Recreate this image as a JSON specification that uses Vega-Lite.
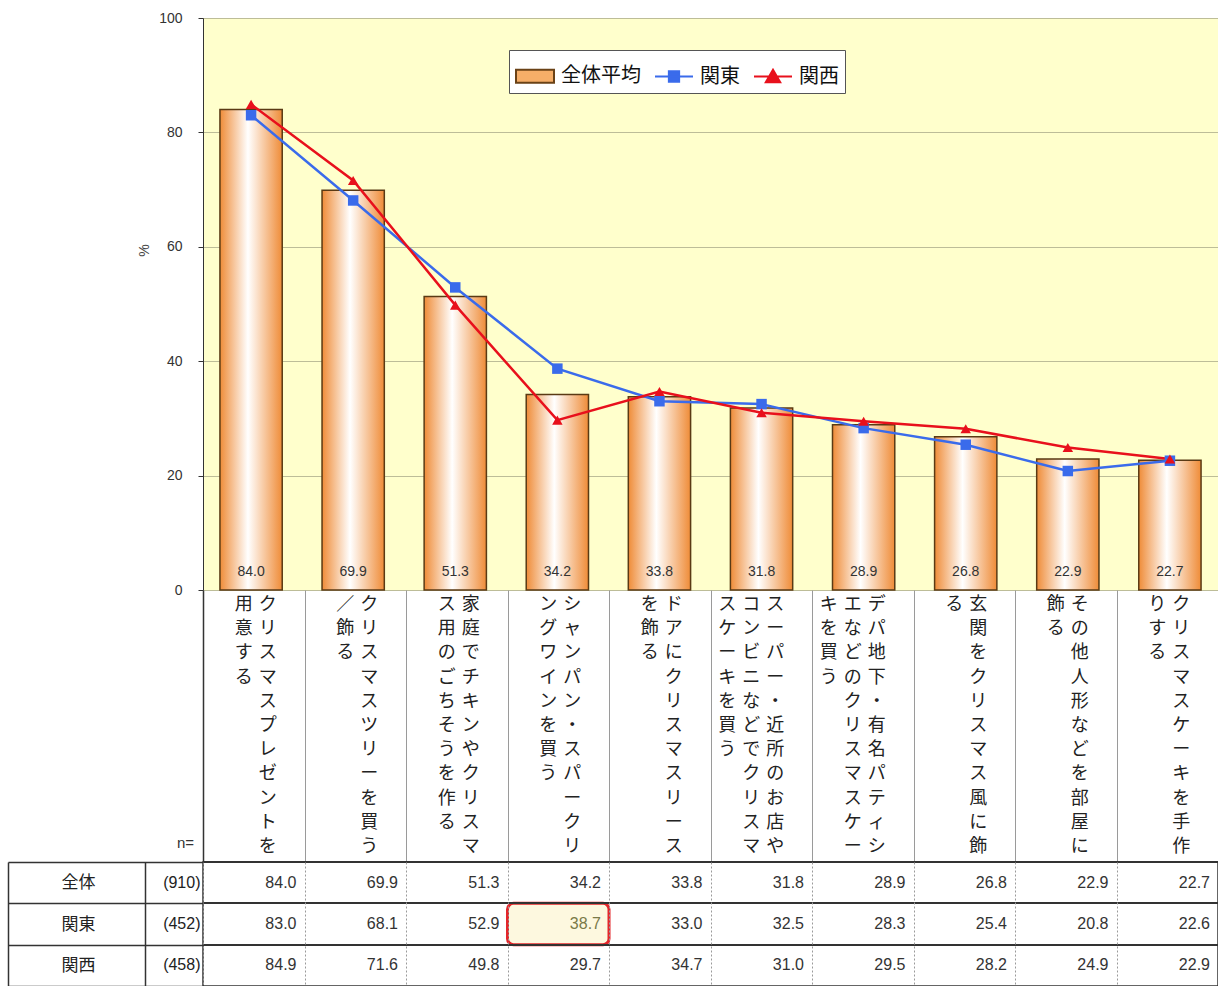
{
  "$schema": "https://vega.github.io/schema/vega-lite/v6.json",
  "padding": {"left": 6, "top": 10, "right": 0, "bottom": 0},
  "background": "#ffffff",
  "bounds": "flush",
  "spacing": 0,
  "resolve": {"scale": {"x": "independent", "y": "independent"}},
  "config": {
    "font": "Liberation Sans, Noto Sans CJK JP",
    "axis": {"labelFont": "Liberation Sans, Noto Sans CJK JP", "titleFont": "Liberation Sans, Noto Sans CJK JP"}
  },
  "datasets": {
    "survey": [
      {"cat": "クリスマスプレゼントを用意する", "series": "全体平均", "row": "全体", "n": 910, "value": 84.0},
      {"cat": "クリスマスツリーを買う／飾る", "series": "全体平均", "row": "全体", "n": 910, "value": 69.9},
      {"cat": "家庭でチキンやクリスマス用のごちそうを作る", "series": "全体平均", "row": "全体", "n": 910, "value": 51.3},
      {"cat": "シャンパン・スパークリングワインを買う", "series": "全体平均", "row": "全体", "n": 910, "value": 34.2},
      {"cat": "ドアにクリスマスリースを飾る", "series": "全体平均", "row": "全体", "n": 910, "value": 33.8},
      {"cat": "スーパー・近所のお店やコンビニなどでクリスマスケーキを買う", "series": "全体平均", "row": "全体", "n": 910, "value": 31.8},
      {"cat": "デパ地下・有名パティシエなどのクリスマスケーキを買う", "series": "全体平均", "row": "全体", "n": 910, "value": 28.9},
      {"cat": "玄関をクリスマス風に飾る", "series": "全体平均", "row": "全体", "n": 910, "value": 26.8},
      {"cat": "その他人形などを部屋に飾る", "series": "全体平均", "row": "全体", "n": 910, "value": 22.9},
      {"cat": "クリスマスケーキを手作りする", "series": "全体平均", "row": "全体", "n": 910, "value": 22.7},
      {"cat": "クリスマスプレゼントを用意する", "series": "関東", "row": "関東", "n": 452, "value": 83.0},
      {"cat": "クリスマスツリーを買う／飾る", "series": "関東", "row": "関東", "n": 452, "value": 68.1},
      {"cat": "家庭でチキンやクリスマス用のごちそうを作る", "series": "関東", "row": "関東", "n": 452, "value": 52.9},
      {"cat": "シャンパン・スパークリングワインを買う", "series": "関東", "row": "関東", "n": 452, "value": 38.7, "hl": true},
      {"cat": "ドアにクリスマスリースを飾る", "series": "関東", "row": "関東", "n": 452, "value": 33.0},
      {"cat": "スーパー・近所のお店やコンビニなどでクリスマスケーキを買う", "series": "関東", "row": "関東", "n": 452, "value": 32.5},
      {"cat": "デパ地下・有名パティシエなどのクリスマスケーキを買う", "series": "関東", "row": "関東", "n": 452, "value": 28.3},
      {"cat": "玄関をクリスマス風に飾る", "series": "関東", "row": "関東", "n": 452, "value": 25.4},
      {"cat": "その他人形などを部屋に飾る", "series": "関東", "row": "関東", "n": 452, "value": 20.8},
      {"cat": "クリスマスケーキを手作りする", "series": "関東", "row": "関東", "n": 452, "value": 22.6},
      {"cat": "クリスマスプレゼントを用意する", "series": "関西", "row": "関西", "n": 458, "value": 84.9},
      {"cat": "クリスマスツリーを買う／飾る", "series": "関西", "row": "関西", "n": 458, "value": 71.6},
      {"cat": "家庭でチキンやクリスマス用のごちそうを作る", "series": "関西", "row": "関西", "n": 458, "value": 49.8},
      {"cat": "シャンパン・スパークリングワインを買う", "series": "関西", "row": "関西", "n": 458, "value": 29.7},
      {"cat": "ドアにクリスマスリースを飾る", "series": "関西", "row": "関西", "n": 458, "value": 34.7},
      {"cat": "スーパー・近所のお店やコンビニなどでクリスマスケーキを買う", "series": "関西", "row": "関西", "n": 458, "value": 31.0},
      {"cat": "デパ地下・有名パティシエなどのクリスマスケーキを買う", "series": "関西", "row": "関西", "n": 458, "value": 29.5},
      {"cat": "玄関をクリスマス風に飾る", "series": "関西", "row": "関西", "n": 458, "value": 28.2},
      {"cat": "その他人形などを部屋に飾る", "series": "関西", "row": "関西", "n": 458, "value": 24.9},
      {"cat": "クリスマスケーキを手作りする", "series": "関西", "row": "関西", "n": 458, "value": 22.9}
    ],
    "labels": [
      {"cat": "クリスマスプレゼントを用意する", "line": 1, "chars": ["ク","リ","ス","マ","ス","プ","レ","ゼ","ン","ト","を"]},
      {"cat": "クリスマスプレゼントを用意する", "line": 2, "chars": ["用","意","す","る"]},
      {"cat": "クリスマスツリーを買う／飾る", "line": 1, "chars": ["ク","リ","ス","マ","ス","ツ","リ","ー","を","買","う"]},
      {"cat": "クリスマスツリーを買う／飾る", "line": 2, "chars": ["／","飾","る"]},
      {"cat": "家庭でチキンやクリスマス用のごちそうを作る", "line": 1, "chars": ["家","庭","で","チ","キ","ン","や","ク","リ","ス","マ"]},
      {"cat": "家庭でチキンやクリスマス用のごちそうを作る", "line": 2, "chars": ["ス","用","の","ご","ち","そ","う","を","作","る"]},
      {"cat": "シャンパン・スパークリングワインを買う", "line": 1, "chars": ["シ","ャ","ン","パ","ン","・","ス","パ","ー","ク","リ"]},
      {"cat": "シャンパン・スパークリングワインを買う", "line": 2, "chars": ["ン","グ","ワ","イ","ン","を","買","う"]},
      {"cat": "ドアにクリスマスリースを飾る", "line": 1, "chars": ["ド","ア","に","ク","リ","ス","マ","ス","リ","ー","ス"]},
      {"cat": "ドアにクリスマスリースを飾る", "line": 2, "chars": ["を","飾","る"]},
      {"cat": "スーパー・近所のお店やコンビニなどでクリスマスケーキを買う", "line": 1, "chars": ["ス","ー","パ","ー","・","近","所","の","お","店","や"]},
      {"cat": "スーパー・近所のお店やコンビニなどでクリスマスケーキを買う", "line": 2, "chars": ["コ","ン","ビ","ニ","な","ど","で","ク","リ","ス","マ"]},
      {"cat": "スーパー・近所のお店やコンビニなどでクリスマスケーキを買う", "line": 3, "chars": ["ス","ケ","ー","キ","を","買","う"]},
      {"cat": "デパ地下・有名パティシエなどのクリスマスケーキを買う", "line": 1, "chars": ["デ","パ","地","下","・","有","名","パ","テ","ィ","シ"]},
      {"cat": "デパ地下・有名パティシエなどのクリスマスケーキを買う", "line": 2, "chars": ["エ","な","ど","の","ク","リ","ス","マ","ス","ケ","ー"]},
      {"cat": "デパ地下・有名パティシエなどのクリスマスケーキを買う", "line": 3, "chars": ["キ","を","買","う"]},
      {"cat": "玄関をクリスマス風に飾る", "line": 1, "chars": ["玄","関","を","ク","リ","ス","マ","ス","風","に","飾"]},
      {"cat": "玄関をクリスマス風に飾る", "line": 2, "chars": ["る"]},
      {"cat": "その他人形などを部屋に飾る", "line": 1, "chars": ["そ","の","他","人","形","な","ど","を","部","屋","に"]},
      {"cat": "その他人形などを部屋に飾る", "line": 2, "chars": ["飾","る"]},
      {"cat": "クリスマスケーキを手作りする", "line": 1, "chars": ["ク","リ","ス","マ","ス","ケ","ー","キ","を","手","作"]},
      {"cat": "クリスマスケーキを手作りする", "line": 2, "chars": ["り","す","る"]}
    ]
  },
  "vconcat": [
    {
      "width": 1015,
      "height": 572,
      "data": {"name": "survey"},
      "view": {"fill": "#FFFFCC", "stroke": "#C2C2A0"},
      "encoding": {
        "x": {"field": "cat", "type": "nominal", "sort": null, "axis": null, "scale": {"paddingInner": 0.39, "paddingOuter": 0.166}},
        "y": {
          "field": "value", "type": "quantitative",
          "scale": {"domain": [0, 100], "nice": false},
          "axis": {
            "values": [0, 20, 40, 60, 80, 100],
            "grid": true, "gridColor": "#BDBD98",
            "domainColor": "#333333", "tickColor": "#333333", "tickSize": 5,
            "labelPadding": 16, "labelFontSize": 14, "labelColor": "#333333",
            "title": "%", "titleFontSize": 14, "titleFontWeight": "normal", "titleColor": "#444444",
            "titleX": -52, "titleY": 232
          }
        }
      },
      "layer": [
        {
          "transform": [{"filter": "datum.series === '全体平均'"}],
          "mark": {
            "type": "bar",
            "fill": {"x1": 0, "y1": 0, "x2": 1, "y2": 0, "gradient": "linear",
              "stops": [{"offset": 0, "color": "#EF8C38"}, {"offset": 0.45, "color": "#FFFFFF"}, {"offset": 1, "color": "#EF8C38"}]},
            "stroke": "#5A3A14", "strokeWidth": 1.5
          }
        },
        {
          "transform": [{"filter": "datum.series === '全体平均'"}],
          "mark": {"type": "text", "dy": -18, "fontSize": 14, "color": "#333333"},
          "encoding": {
            "y": {"datum": 0, "type": "quantitative"},
            "text": {"field": "value", "type": "quantitative", "format": ".1f"}
          }
        },
        {
          "transform": [{"filter": "datum.series !== '全体平均'"}],
          "mark": {"type": "line", "strokeWidth": 2.5},
          "encoding": {
            "color": {"field": "series", "type": "nominal", "scale": {"domain": ["関東", "関西"], "range": ["#3A6BEB", "#E8101C"]}, "legend": null}
          }
        },
        {
          "transform": [{"filter": "datum.series !== '全体平均'"}],
          "mark": {"type": "point", "filled": true, "opacity": 1, "size": 110},
          "encoding": {
            "color": {"field": "series", "type": "nominal", "scale": {"domain": ["関東", "関西"], "range": ["#3A6BEB", "#E8101C"]}, "legend": null},
            "shape": {"field": "series", "type": "nominal", "scale": {"domain": ["関東", "関西"], "range": ["square", "triangle-up"]}, "legend": null}
          }
        },
        {
          "mark": {"type": "point", "size": 0, "strokeWidth": 2},
          "encoding": {
            "fill": {"field": "series", "type": "nominal",
              "scale": {"domain": ["全体平均", "関東", "関西"], "range": ["#F6AE68", "#3A6BEB", "#E8101C"]},
              "legend": {"title": null, "orient": "none", "legendX": 306, "legendY": 32, "direction": "horizontal", "fillColor": "#FFFFFF", "strokeColor": "#555555", "padding": 6, "symbolSize": 1444, "symbolStrokeWidth": 2, "symbolOpacity": 1, "labelFontSize": 20, "labelFont": "Noto Sans CJK JP", "labelColor": "#111111", "labelOffset": 6, "columnPadding": 10, "labelLimit": 200}},
            "stroke": {"field": "series", "type": "nominal",
              "scale": {"domain": ["全体平均", "関東", "関西"], "range": ["#6A4216", "#3A6BEB", "#E8101C"]},
              "legend": {"title": null, "orient": "none", "legendX": 306, "legendY": 32, "direction": "horizontal", "fillColor": "#FFFFFF", "strokeColor": "#555555", "padding": 6, "symbolSize": 1444, "symbolStrokeWidth": 2, "symbolOpacity": 1, "labelFontSize": 20, "labelFont": "Noto Sans CJK JP", "labelColor": "#111111", "labelOffset": 6, "columnPadding": 10, "labelLimit": 200}},
            "shape": {"field": "series", "type": "nominal",
              "scale": {"domain": ["全体平均", "関東", "関西"], "range": ["M-1,-0.34H1V0.34H-1Z", "M-1,0H1M-0.27,-0.27H0.27V0.27H-0.27Z", "M-1,0H1M0,-0.36L0.38,0.3H-0.38Z"]},
              "legend": {"title": null, "orient": "none", "legendX": 306, "legendY": 32, "direction": "horizontal", "fillColor": "#FFFFFF", "strokeColor": "#555555", "padding": 6, "symbolSize": 1444, "symbolStrokeWidth": 2, "symbolOpacity": 1, "labelFontSize": 20, "labelFont": "Noto Sans CJK JP", "labelColor": "#111111", "labelOffset": 6, "columnPadding": 10, "labelLimit": 200}}
          }
        }
      ],
      "resolve": {"scale": {"shape": "independent", "fill": "independent", "stroke": "independent"}}
    },
    {
      "width": 1015,
      "height": 272,
      "data": {"name": "labels"},
      "view": {"stroke": null},
      "encoding": {
        "x": {
          "field": "cat", "type": "nominal", "sort": null,
          "scale": {"paddingInner": 0, "paddingOuter": 0},
          "axis": {"orient": "bottom", "labels": false, "ticks": false, "domain": false, "title": null, "grid": true, "tickBand": "extent",
            "gridColor": {"condition": {"test": "!(datum.index >= 0) || datum.extra", "value": "#333333"}, "value": "#9A9A9A"},
            "gridWidth": {"condition": {"test": "!(datum.index >= 0) || datum.extra", "value": 1.5}, "value": 1}}
        },
        "text": {"field": "chars", "type": "nominal"}
      },
      "layer": [
        {
          "transform": [{"filter": "datum.line === 1"}],
          "mark": {"type": "text", "dx": 14, "dy": -130, "baseline": "top", "align": "center", "fontSize": 18, "lineHeight": 24.2, "font": "Noto Sans CJK JP", "color": "#222222"}
        },
        {
          "transform": [{"filter": "datum.line === 2"}],
          "mark": {"type": "text", "dx": -10, "dy": -130, "baseline": "top", "align": "center", "fontSize": 18, "lineHeight": 24.2, "font": "Noto Sans CJK JP", "color": "#222222"}
        },
        {
          "transform": [{"filter": "datum.line === 3"}],
          "mark": {"type": "text", "dx": -34, "dy": -130, "baseline": "top", "align": "center", "fontSize": 18, "lineHeight": 24.2, "font": "Noto Sans CJK JP", "color": "#222222"}
        }
      ]
    },
    {
      "width": 1015,
      "height": 124,
      "data": {"name": "survey"},
      "view": {"stroke": "#333333", "strokeWidth": 1.5},
      "layer": [
        {
          "encoding": {
            "y": {
              "field": "row", "type": "nominal", "sort": null,
              "scale": {"paddingInner": 0, "paddingOuter": 0},
              "axis": {"orient": "left", "offset": 195, "domain": true, "domainColor": "#333333", "domainWidth": 1.5,
                "ticks": true, "tickBand": "extent", "tickSize": -195, "tickColor": "#333333", "tickWidth": 1.5,
                "labelAlign": "center", "labelBaseline": "middle", "labelPadding": 125, "labelFontSize": 17,
                "labelFont": "Noto Sans CJK JP", "labelColor": "#222222", "title": null, "grid": false}
            }
          },
          "layer": [
            {
              "mark": {"type": "rect", "fill": "#FDF8DF", "stroke": "#E3262B", "strokeWidth": 3, "cornerRadius": 6},
              "encoding": {
                "x": {"field": "cat", "type": "nominal", "sort": null, "scale": {"paddingInner": 0, "paddingOuter": 0},
                  "axis": {"orient": "top", "grid": true, "tickBand": "extent", "gridColor": "#9A9A9A", "gridDash": [2, 2], "labels": false, "ticks": false, "domain": false, "title": null}},
                "opacity": {"condition": {"test": "datum.hl", "value": 1}, "value": 0}
              }
            },
            {
              "mark": {"type": "text", "align": "right", "baseline": "middle", "dx": -8, "fontSize": 16},
              "encoding": {
                "x": {"field": "cat", "type": "nominal", "sort": null, "bandPosition": 1, "scale": {"paddingInner": 0, "paddingOuter": 0},
                  "axis": {"orient": "top", "grid": true, "tickBand": "extent", "gridColor": "#9A9A9A", "gridDash": [2, 2], "labels": false, "ticks": false, "domain": false, "title": null}},
                "text": {"field": "value", "type": "quantitative", "format": ".1f"},
                "color": {"condition": {"test": "datum.hl", "value": "#7A7A48"}, "value": "#333333"}
              }
            }
          ]
        },
        {
          "mark": {"type": "rule", "color": "#333333", "strokeWidth": 1.5},
          "encoding": {
            "y": {
              "field": "n", "type": "ordinal", "sort": null, "bandPosition": 0,
              "scale": {"paddingInner": 0, "paddingOuter": 0},
              "axis": {"orient": "left", "offset": 58, "domain": true, "domainColor": "#333333", "domainWidth": 1.5,
                "ticks": false, "grid": false, "labelExpr": "'(' + datum.label + ')'", "labelAlign": "right", "labelBaseline": "middle",
                "labelPadding": -55, "labelFontSize": 16, "labelColor": "#222222",
                "title": "n=", "titleAngle": 0, "titleX": 40, "titleY": -12, "titleAlign": "center", "titleBaseline": "bottom",
                "titleFontSize": 15, "titleFontWeight": "normal", "titleColor": "#333333"}
            }
          }
        }
      ],
      "resolve": {"scale": {"y": "independent"}, "axis": {"y": "independent"}}
    }
  ]
}
